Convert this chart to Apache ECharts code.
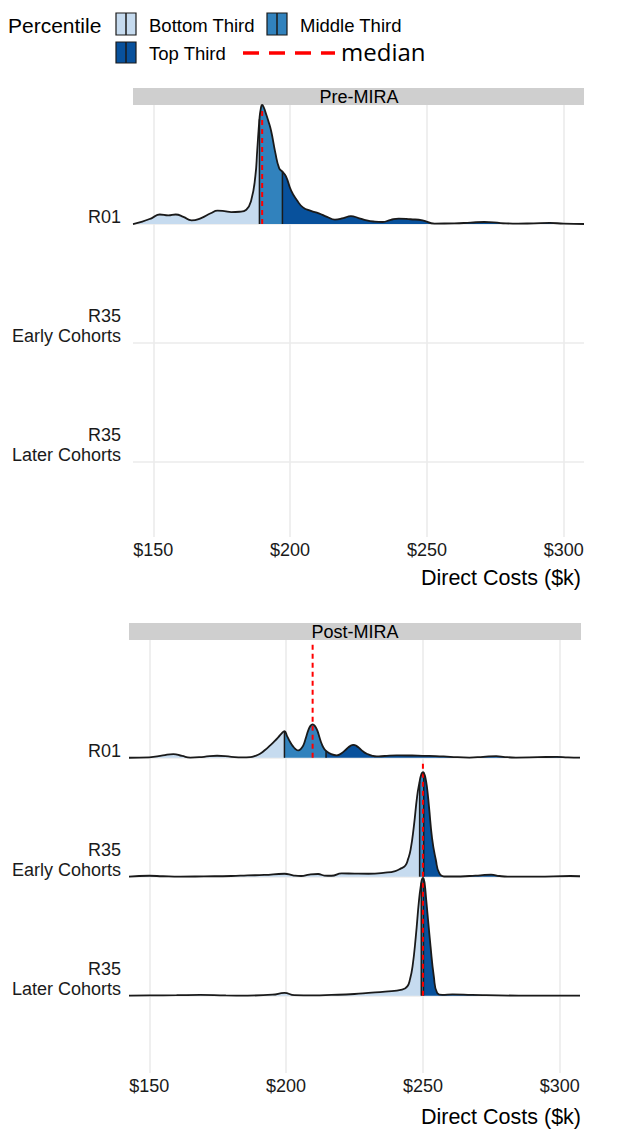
<!DOCTYPE html>
<html><head><meta charset="utf-8">
<script src="https://cdn.jsdelivr.net/npm/echarts@6/dist/echarts.min.js"></script>
<style>html,body{margin:0;padding:0;background:#fff}#c{width:625px;height:1144px}</style>
</head><body><div id="c"></div>
<script>
// ---------- data ----------
const rowLabels = ['R35\nLater Cohorts', 'R35\nEarly Cohorts', 'R01'];
const xTicks = [150, 200, 250, 300];
const panelNames = ['Pre-MIRA', 'Post-MIRA'];
const legendNames = ['Bottom Third', 'Middle Third', 'Top Third'];
const legendTitle = 'Percentile';
const medianLabel = 'median';
const axisTitle = 'Direct Costs ($k)';

// densities: [direct cost ($k), ridge height in row units]
const preR01 = [[142.6,0],[146.0,0.02],[149.5,0.05],[152.4,0.08],[155.5,0.072],[158.2,0.08],[161.0,0.06],[164.0,0.03],[167.5,0.05],[171.0,0.09],[173.5,0.112],[176.0,0.108],[178.5,0.1],[181.5,0.103],[184.0,0.12],[185.8,0.2],[187.3,0.4],[188.0,0.62],[188.8,0.88],[189.3,0.97],[189.8,1.0],[190.3,0.985],[191.0,0.94],[192.0,0.87],[193.1,0.78],[194.6,0.6],[196.0,0.47],[197.2,0.44],[198.5,0.4],[200.4,0.28],[202.5,0.2],[204.7,0.14],[207.6,0.11],[210.5,0.09],[213.5,0.06],[216.4,0.037],[219.5,0.05],[222.2,0.066],[225.0,0.05],[228.0,0.03],[231.0,0.02],[233.8,0.017],[236.8,0.035],[239.7,0.046],[244.0,0.04],[248.4,0.031],[252.8,0.004],[260.0,0.005],[266.0,0.012],[271.0,0.017],[277.0,0.008],[283.3,0.003],[289.0,0.006],[294.9,0.009],[300.0,0.003],[307.4,0]];
const preR01Cuts = [188.8, 197.2];
const preR01Median = 189.8;

const postR01 = [[142.6,0],[150,0.004],[155,0.02],[158.8,0.031],[162,0.015],[165,0.002],[170,0.008],[174.8,0.017],[180,0.008],[184,0.004],[186.9,0.006],[188.7,0.016],[190.5,0.034],[192.3,0.065],[194.2,0.104],[195.8,0.14],[197.2,0.174],[198.4,0.205],[199.4,0.224],[200.4,0.18],[201.5,0.132],[202.4,0.1],[203.3,0.076],[204.5,0.062],[205.4,0.075],[206.3,0.104],[207.2,0.165],[208.1,0.23],[208.9,0.268],[209.7,0.28],[210.5,0.268],[211.4,0.23],[212.2,0.172],[213.0,0.118],[213.8,0.08],[214.6,0.058],[216.5,0.03],[218.5,0.02],[220.4,0.04],[222.2,0.076],[223.4,0.098],[224.6,0.109],[225.8,0.098],[227.0,0.076],[228.2,0.052],[229.5,0.034],[231.3,0.018],[233.1,0.011],[236,0.015],[240.4,0.02],[246,0.019],[250,0.016],[254.7,0.014],[260,0.008],[267,0.002],[272,0.008],[276.8,0.014],[280,0.006],[284,0.002],[292,0.005],[298.9,0.008],[303,0.004],[307.4,0.002]];
const postR01Cuts = [199.4, 214.6];
const postR01Median = 209.7;

const postEarly = [[142.6,0],[150,0.008],[155,0.004],[161.3,0.001],[170,0.003],[180,0.006],[185.9,0.011],[192,0.015],[199.4,0.025],[202.5,0.012],[205.5,0.006],[208.5,0.018],[211.7,0.023],[214,0.01],[216.6,0.008],[220.3,0.028],[225,0.026],[230.1,0.025],[236.2,0.034],[239.9,0.048],[242,0.07],[243.6,0.095],[244.6,0.15],[245.5,0.227],[246.7,0.426],[247.9,0.678],[248.8,0.8],[249.4,0.86],[250,0.88],[250.3,0.875],[250.8,0.845],[251.5,0.75],[252.2,0.594],[253.4,0.313],[254.7,0.145],[255.9,0.034],[257.7,0.002],[262,0.002],[267,0.006],[271,0.012],[274.9,0.017],[278,0.006],[281,0.001],[291.5,0.001],[303.8,0.006],[307.4,0.004]];
const postEarlyCuts = [248.8, 250.3];
const postEarlyMedian = 250;

const postLater = [[142.6,0],[150,0.002],[160,0.004],[168.7,0.006],[178,0.002],[185.9,0.001],[195,0.008],[199.4,0.023],[203,0.004],[210,0.002],[216.6,0.006],[225,0.014],[230.1,0.023],[236.2,0.034],[242.4,0.05],[244.3,0.078],[245.3,0.14],[246.2,0.244],[247.4,0.496],[248.6,0.807],[249.4,0.95],[249.7,0.98],[250,0.99],[250.2,0.985],[250.6,0.95],[251.2,0.807],[252.8,0.412],[254.0,0.16],[255.2,0.023],[257.1,0.006],[260.8,0.011],[268,0.006],[273,0.004],[285,0.001],[300,0.001],[307.4,0]];
const postLaterCuts = [249.4, 250.2];
const postLaterMedian = 250;

// ---------- styling / layout ----------
const FONT = '"Liberation Sans", Arial, sans-serif';
const COLORS = ['#C6DBEF', '#3182BD', '#08519C'];
const INK = '#1a1a1a';
const GRIDC = '#EBEBEB';
const X_MIN = 142.6, X_MAX = 307.4;
const MEDIAN_H = 0.96;
const LBL_SHIFT = 0.025;
const SMOOTH = 0.5;

const panels = [
  {name: panelNames[0], box: {left: 133, right: 41, top: 105, height: 432}, yMin: -0.63, yMax: 3.0, labelMargin: 12,
   ridges: [{row: 2, data: preR01, cuts: preR01Cuts, median: preR01Median}]},
  {name: panelNames[1], box: {left: 129, right: 45, top: 640, height: 433}, yMin: -0.65, yMax: 2.99, labelMargin: 8,
   ridges: [{row: 2, data: postR01, cuts: postR01Cuts, median: postR01Median},
            {row: 1, data: postEarly, cuts: postEarlyCuts, median: postEarlyMedian},
            {row: 0, data: postLater, cuts: postLaterCuts, median: postLaterMedian}]}
];

const grids = [], xAxes = [], yAxes = [], series = [], visualMaps = [];
panels.forEach((p, g) => {
  grids.push({left: p.box.left, right: p.box.right, top: p.box.top, height: p.box.height});
  xAxes.push({type: 'value', gridIndex: g, min: X_MIN, max: X_MAX,
    axisLine: {show: false}, axisTick: {show: false, customValues: xTicks},
    axisLabel: {customValues: xTicks, formatter: v => '$' + v, fontSize: 18, color: INK, margin: 4, fontFamily: FONT},
    splitLine: {show: true, lineStyle: {color: GRIDC, width: 1.6}}});
  yAxes.push({type: 'value', gridIndex: g, position: 'left', min: p.yMin, max: p.yMax,
    axisLine: {show: false}, axisTick: {show: false, customValues: [0, 1, 2]}, axisLabel: {show: false},
    splitLine: {show: true, lineStyle: {color: GRIDC, width: 1.6}}});
  yAxes.push({type: 'value', gridIndex: g, position: 'left', offset: 0, min: p.yMin + LBL_SHIFT, max: p.yMax + LBL_SHIFT,
    axisLine: {show: false}, axisTick: {show: false}, splitLine: {show: false},
    axisLabel: {customValues: [0, 1, 2], formatter: v => rowLabels[Math.round(v)], align: 'right',
      verticalAlign: 'bottom', lineHeight: 20, fontSize: 18, color: INK, margin: p.labelMargin, fontFamily: FONT}});
  p.ridges.forEach((r, k) => {
    const yi = yAxes.length;
    yAxes.push({type: 'value', gridIndex: g, position: 'left', min: p.yMin - r.row, max: p.yMax - r.row, show: false});
    const zb = 10 + k * 5;
    series.push({type: 'line', xAxisIndex: g, yAxisIndex: yi, data: r.data, smooth: SMOOTH,
      showSymbol: false, silent: true, lineStyle: {width: 0, opacity: 0}, areaStyle: {opacity: 1}, z: zb});
    visualMaps.push({type: 'piecewise', show: false, dimension: 0, seriesIndex: series.length - 1,
      pieces: [{lte: r.cuts[0], color: COLORS[0]}, {gt: r.cuts[0], lte: r.cuts[1], color: COLORS[1]}, {gt: r.cuts[1], color: COLORS[2]}]});
    r.cuts.forEach(c => {
      const pt = r.data.find(d => d[0] === c);
      series.push({type: 'line', xAxisIndex: g, yAxisIndex: yi, data: [[c, 0], [c, pt[1]]], showSymbol: false, silent: true,
        lineStyle: {color: INK, width: 1.5}, z: zb + 1});
    });
    series.push({type: 'line', xAxisIndex: g, yAxisIndex: yi, data: [[r.median, 0], [r.median, MEDIAN_H]], showSymbol: false, silent: true,
      lineStyle: {color: '#FF0000', width: 2, type: [5, 4]}, z: zb + 2});
    series.push({type: 'line', xAxisIndex: g, yAxisIndex: yi, data: r.data, smooth: SMOOTH,
      showSymbol: false, silent: true, lineStyle: {color: INK, width: 1.8}, z: zb + 3});
  });
});

function txt(text, x, y, size, align, family) {
  return {type: 'text', x: x, y: y, silent: true,
    style: {text: text, fill: '#000', fontSize: size, fontFamily: family || FONT,
      align: align || 'left', textAlign: align || 'left', verticalAlign: 'middle', textVerticalAlign: 'middle'}};
}
function key(x, y, h, color) {
  return [{type: 'rect', shape: {x: x, y: y, width: 20, height: h}, style: {fill: color, stroke: INK, lineWidth: 1.2}},
          {type: 'line', shape: {x1: x + 10, y1: y, x2: x + 10, y2: y + h}, style: {stroke: INK, lineWidth: 1.5}}];
}
const graphic = [].concat(
  [txt(legendTitle, 8, 25, 21)],
  key(116, 13, 22, COLORS[0]), [txt(legendNames[0], 149, 25, 18.5)],
  key(267, 13, 22, COLORS[1]), [txt(legendNames[1], 300, 25, 18.5)],
  key(116, 42, 21, COLORS[2]), [txt(legendNames[2], 149, 53, 18.5)],
  [{type: 'line', shape: {x1: 243, y1: 53, x2: 335, y2: 53}, style: {stroke: '#FF0000', lineWidth: 3.5, lineDash: [16, 10]}}],
  [txt(medianLabel, 341, 51, 24, 'left', '"Open Sans", sans-serif')],
  [{type: 'rect', shape: {x: 133, y: 88, width: 451, height: 17}, style: {fill: '#CFCFCF'}}, txt(panelNames[0], 359, 96.5, 18, 'center')],
  [{type: 'rect', shape: {x: 129, y: 623, width: 452, height: 17}, style: {fill: '#CFCFCF'}}, txt(panelNames[1], 355, 632, 18, 'center')],
  [txt(axisTitle, 581, 578, 21.5, 'right'), txt(axisTitle, 581, 1117, 21.5, 'right')]
);

const chart = echarts.init(document.getElementById('c'), null, {renderer: 'svg'});
chart.setOption({
  animation: false,
  backgroundColor: '#fff',
  grid: grids, xAxis: xAxes, yAxis: yAxes, series: series, visualMap: visualMaps, graphic: graphic
});
</script></body></html>
